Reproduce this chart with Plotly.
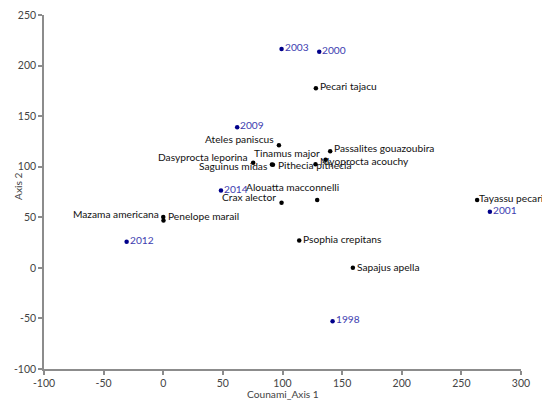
import plotly.graph_objects as go

# --- data ---
species = ["Pecari tajacu", "Ateles paniscus", "Tinamus major", "Passalites gouazoubira",
           "Dasyprocta leporina", "Saguinus midas", "Pithecia pithecia", "Myoprocta acouchy",
           "Alouatta macconnelli", "Crax alector", "Mazama americana", "Penelope marail",
           "Psophia crepitans", "Sapajus apella", "Tayassu pecari"]
species_x = [128.0, 97.0, 136.1, 140.0, 75.4, 91.1, 92.0, 127.7, 129.1, 99.2, 0.0, 0.2, 114.0, 159.0, 263.2]
species_y = [177.6, 121.2, 106.8, 115.3, 103.8, 102.1, 102.0, 102.4, 67.2, 64.3, 50.2, 46.8, 27.0, 0.0, 67.2]

years = ["2003", "2000", "2009", "2014", "2012", "1998", "2001"]
years_x = [99.2, 130.8, 62.0, 48.4, -30.7, 142.0, 273.9]
years_y = [216.5, 213.6, 139.0, 76.4, 25.7, -52.8, 55.4]

x_ticks = [-100, -50, 0, 50, 100, 150, 200, 250, 300]
y_ticks = [-100, -50, 0, 50, 100, 150, 200, 250]

# label placement styles (anchor, shift x px, shift y px)
species_label_style = [
    ("left", 2, 2), ("right", -3, 6), ("right", -4, 7), ("left", 2, 3),
    ("right", -3, 6), ("right", -2, -1), ("left", 3, 0), ("left", 2, 3),
    ("right", 24, 13), ("right", -4, 6), ("right", -2, 3), ("left", 3, 5),
    ("left", 2, 2), ("left", 2, 1), ("left", 0, 2),
]
year_label_style = ("left", 1, 2)

FONT = "Lato"
FS = 10.2
SPECIES_COLOR = "#111111"
YEAR_DOT = "#00008b"
YEAR_TEXT = "#3c3cb0"
AXIS_TEXT = "#444444"

fig = go.Figure()
fig.add_trace(go.Scatter(x=species_x, y=species_y, mode="markers",
                         marker=dict(color="black", size=4.5), hoverinfo="text", text=species,
                         cliponaxis=False, showlegend=False))
fig.add_trace(go.Scatter(x=years_x, y=years_y, mode="markers",
                         marker=dict(color=YEAR_DOT, size=4.5), hoverinfo="text", text=years,
                         cliponaxis=False, showlegend=False))

annotations = []
for name, x, y, (anc, dx, dy) in zip(species, species_x, species_y, species_label_style):
    annotations.append(dict(x=x, y=y, text=name, showarrow=False, xanchor=anc, yanchor="middle",
                            xshift=dx, yshift=dy,
                            font=dict(family=FONT, size=FS, color=SPECIES_COLOR)))
for name, x, y in zip(years, years_x, years_y):
    anc, dx, dy = year_label_style
    annotations.append(dict(x=x, y=y, text=name, showarrow=False, xanchor=anc, yanchor="middle",
                            xshift=dx, yshift=dy,
                            font=dict(family=FONT, size=FS, color=YEAR_TEXT)))

# axis titles
annotations.append(dict(xref="paper", yref="paper", x=0.5, y=0, text="Counami_Axis 1",
                        showarrow=False, xanchor="center", yanchor="middle", yshift=-25,
                        font=dict(family=FONT, size=FS, color=AXIS_TEXT)))
annotations.append(dict(xref="paper", yref="paper", x=0, y=0.5, text="Axis 2", textangle=-90,
                        showarrow=False, xanchor="center", yanchor="middle", xshift=-26, yshift=5,
                        font=dict(family=FONT, size=FS, color=AXIS_TEXT)))

axis_common = dict(showgrid=False, zeroline=False, showline=True, linecolor="#8c8c8c",
                   linewidth=1.5, ticks="outside", ticklen=4, tickcolor="#8c8c8c", tickwidth=1.5,
                   automargin=False,
                   tickfont=dict(family=FONT, size=10.5, color=AXIS_TEXT))

fig.update_layout(
    width=542, height=400,
    margin=dict(l=44, r=21, t=15, b=31),
    paper_bgcolor="white", plot_bgcolor="white",
    annotations=annotations,
    xaxis=dict(range=[-100, 300], tickvals=x_ticks, ticktext=[str(v) for v in x_ticks],
               **axis_common),
    yaxis=dict(range=[-100, 250], tickvals=y_ticks, ticktext=[str(v) for v in y_ticks],
               **axis_common),
)
fig.write_html("out.html")
